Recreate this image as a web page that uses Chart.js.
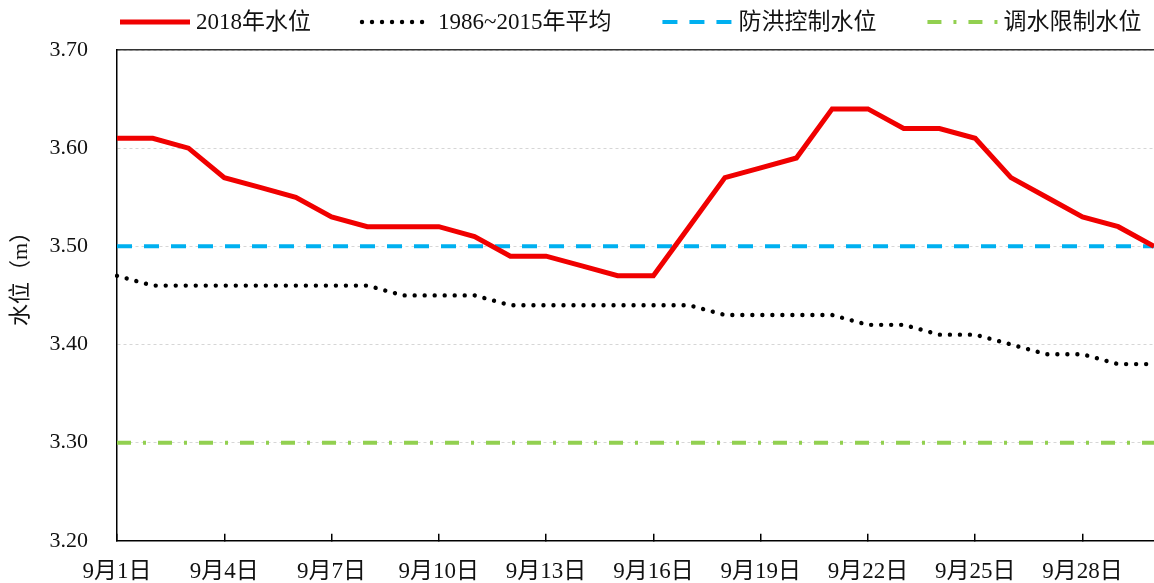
<!DOCTYPE html>
<html>
<head>
<meta charset="utf-8">
<script src="https://cdn.jsdelivr.net/npm/chart.js@4/dist/chart.umd.min.js"></script>
<style>
  html, body { margin: 0; padding: 0; background: #fff; }
  #wrap { width: 1154px; height: 583px; position: relative; }
</style>
</head>
<body>
<div id="wrap"><canvas id="c"></canvas></div>
<script>
// x categories (daily, September)
const days = ['9月1日', '9月2日', '9月3日', '9月4日', '9月5日', '9月6日', '9月7日', '9月8日', '9月9日', '9月10日',
    '9月11日', '9月12日', '9月13日', '9月14日', '9月15日', '9月16日', '9月17日', '9月18日', '9月19日', '9月20日',
    '9月21日', '9月22日', '9月23日', '9月24日', '9月25日', '9月26日', '9月27日', '9月28日', '9月29日', '9月30日'];

// 2018 water level (m)
const level2018 = [3.61, 3.61, 3.60, 3.57, 3.56, 3.55, 3.53, 3.52, 3.52, 3.52,
    3.51, 3.49, 3.49, 3.48, 3.47, 3.47, 3.52, 3.57, 3.58, 3.59,
    3.64, 3.64, 3.62, 3.62, 3.61, 3.57, 3.55, 3.53, 3.52, 3.50];

// 1986~2015 average
const levelAvg = [3.47, 3.46, 3.46, 3.46, 3.46, 3.46, 3.46, 3.46, 3.45, 3.45,
    3.45, 3.44, 3.44, 3.44, 3.44, 3.44, 3.44, 3.43, 3.43, 3.43,
    3.43, 3.42, 3.42, 3.41, 3.41, 3.40, 3.39, 3.39, 3.38, 3.38];

// flood control level / water transfer limit level
const floodCtrl = [3.50, 3.50, 3.50, 3.50, 3.50, 3.50, 3.50, 3.50, 3.50, 3.50,
    3.50, 3.50, 3.50, 3.50, 3.50, 3.50, 3.50, 3.50, 3.50, 3.50,
    3.50, 3.50, 3.50, 3.50, 3.50, 3.50, 3.50, 3.50, 3.50, 3.50];
const transferLimit = [3.30, 3.30, 3.30, 3.30, 3.30, 3.30, 3.30, 3.30, 3.30, 3.30,
    3.30, 3.30, 3.30, 3.30, 3.30, 3.30, 3.30, 3.30, 3.30, 3.30,
    3.30, 3.30, 3.30, 3.30, 3.30, 3.30, 3.30, 3.30, 3.30, 3.30];

const seriesNames = ['2018年水位', '1986~2015年平均', '防洪控制水位', '调水限制水位'];

const yMin = 3.2, yMax = 3.7, yStep = 0.1;

const FONT = '"Liberation Serif", "Noto Sans CJK SC", serif';

// legend drawn on the canvas so it can sit over the plot like the original
const topLegend = {
    id: 'topLegend',
    afterDraw(chart) {
        const ctx = chart.ctx;
        let x = chart.chartArea.left + 3;
        const y = 22;
        ctx.save();
        ctx.font = '23px ' + FONT;
        ctx.textBaseline = 'middle';
        chart.data.datasets.forEach(ds => {
            ctx.beginPath();
            ctx.strokeStyle = ds.borderColor;
            ctx.lineWidth = ds.borderWidth;
            ctx.lineCap = ds.borderCapStyle || 'butt';
            ctx.setLineDash(ds.borderDash || []);
            ctx.moveTo(x, y);
            ctx.lineTo(x + 70, y);
            ctx.stroke();
            ctx.setLineDash([]);
            ctx.fillStyle = '#111';
            ctx.fillText(ds.label, x + 76, y + 1);
            x += 76 + ctx.measureText(ds.label).width + 51;
        });
        ctx.restore();
    }
};

new Chart(document.getElementById('c'), {
    type: 'line',
    data: {
        labels: days,
        datasets: [
            { label: seriesNames[0], data: level2018, borderColor: '#f00000', borderWidth: 5, pointRadius: 0, tension: 0 },
            { label: seriesNames[1], data: levelAvg, borderColor: '#000', borderWidth: 4.4, borderDash: [0.01, 10], borderCapStyle: 'round', pointRadius: 0, tension: 0 },
            { label: seriesNames[2], data: floodCtrl, borderColor: '#00b0f0', borderWidth: 4, borderDash: [15, 12], pointRadius: 0 },
            { label: seriesNames[3], data: transferLimit, borderColor: '#92d050', borderWidth: 4, borderDash: [14, 12, 3, 12], pointRadius: 0 },
        ],
    },
    options: {
        responsive: true, maintainAspectRatio: false, animation: false,
        layout: { padding: { top: 50, right: -4, left: 0, bottom: 0 } },
        plugins: { legend: { display: false }, tooltip: { enabled: false } },
        scales: {
            x: {
                type: 'category',
                offset: false,
                grid: {
                    drawOnChartArea: false, drawTicks: true, tickLength: -7, lineWidth: 1.5,
                    color: c => (c.index % 3 === 0 ? '#000' : 'rgba(0,0,0,0)'),
                },
                border: { color: '#000', width: 1.5 },
                ticks: {
                    autoSkip: false, maxRotation: 0, padding: 24, color: '#111',
                    font: { family: FONT, size: 23 },
                    callback: (v, i) => (i % 3 === 0 ? days[i] : ''),
                },
                afterFit: s => { s.height = 42; s.paddingLeft = 0; s.paddingRight = 0; },
            },
            // only there to draw the top edge of the plot box
            xTop: {
                type: 'category', position: 'top',
                grid: { display: false },
                ticks: { display: false },
                border: { color: '#333', width: 1.5 },
                afterFit: s => { s.height = 0; s.paddingLeft = 0; s.paddingRight = 0; },
            },
            y: {
                min: yMin, max: yMax,
                grid: { color: '#d6d6d6', lineWidth: 1, drawTicks: false },
                border: { color: '#000', width: 1.5, dash: [3, 3] },
                ticks: {
                    stepSize: yStep, padding: 29, color: '#111',
                    font: { family: FONT, size: 22 },
                    callback: v => v.toFixed(2),
                },
                title: {
                    display: true, text: '\u3000\u3000水位（m）', color: '#111',
                    font: { family: FONT, size: 22 },
                    padding: { top: 8, bottom: 0 },
                },
                afterFit: s => { s.width = 117; },
            },
        },
    },
    plugins: [topLegend],
});
</script>
</body>
</html>
